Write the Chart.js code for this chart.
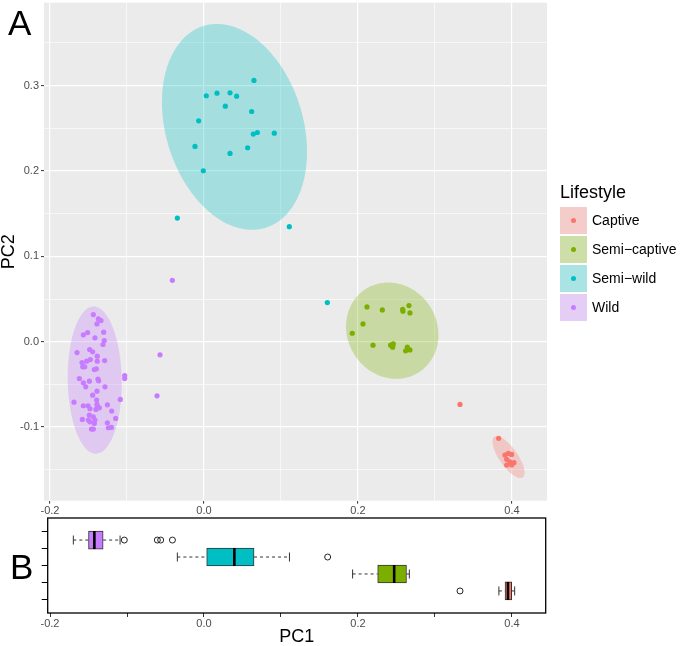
<!DOCTYPE html>
<html><head><meta charset="utf-8">
<script src="https://cdn.jsdelivr.net/npm/chart.js@4.4.1/dist/chart.umd.min.js"></script>
<style>
html,body{margin:0;padding:0;background:#fff;}
#wrap{position:relative;width:685px;height:646px;overflow:hidden;font-family:"Liberation Sans",Arial,sans-serif;}
canvas{position:absolute;left:0;}
#cA{top:0;}
#cB{top:510px;}
.tag{position:absolute;font-size:35px;line-height:35px;color:#000;}
#legTitle{position:absolute;left:560px;top:183px;font-size:18px;line-height:18px;color:#000;}
.key{position:absolute;left:560px;width:27px;height:27px;background:#F2F2F2;}
.keyfill{position:absolute;left:0;top:0;width:27px;height:27px;}
.dot{position:absolute;left:11px;top:11px;width:5.2px;height:5.2px;border-radius:50%;}
.lab{position:absolute;left:592px;height:27px;line-height:27px;font-size:14px;color:#000;white-space:nowrap;}
</style></head>
<body>
<div id="wrap">
<canvas id="cA" width="685" height="520"></canvas>
<canvas id="cB" width="685" height="136"></canvas>
<div class="tag" style="left:8px;top:5px">A</div>
<div class="tag" style="left:10px;top:549px">B</div>
<div id="legTitle">Lifestyle</div>
<div id="legend"></div>
</div>
<script>
// ---------- data ----------
const groupLabels = ['Captive','Semi−captive','Semi−wild','Wild'];
const groupColors = ['#F8766D','#7CAE00','#00BFC4','#C77CFF'];

const captivePC1 = [0.3325,0.3827,0.3909,0.3952,0.3996,0.3931,0.3974,0.4026,0.3931,0.3996];
const captivePC2 = [-0.0735,-0.1132,-0.1327,-0.1308,-0.1320,-0.1378,-0.1406,-0.1417,-0.1444,-0.1444];

const semiCaptivePC1 = [0.2117,0.2316,0.2580,0.2584,0.2662,0.2675,0.2065,0.1926,0.2195,0.2424,0.2459,0.2451,0.2641,0.2619,0.2675];
const semiCaptivePC2 = [0.0407,0.0372,0.0380,0.0357,0.0423,0.0337,0.0208,0.0099,-0.0041,-0.0041,-0.0026,-0.0064,-0.0064,-0.0107,-0.0096];

const semiWildPC1 = [0.0649,0.0030,0.0169,0.0338,0.0424,0.0277,0.0619,-0.0069,0.0640,0.0693,0.0913,-0.0117,0.0567,0.0338,-0.0009,-0.0346,0.1108,0.1602];
const semiWildPC2 = [0.306,0.288,0.291,0.2915,0.2875,0.2758,0.2696,0.2587,0.2431,0.245,0.2442,0.2287,0.2271,0.2205,0.2002,0.1448,0.1347,0.0458];

const wildPC1 = [-0.1437,-0.1372,-0.1338,-0.1390,-0.1567,-0.1511,-0.1303,-0.1416,-0.1295,-0.1312,-0.1649,-0.1485,-0.1446,-0.1386,-0.1584,-0.1523,-0.1476,-0.1386,-0.1290,-0.1575,-0.1549,-0.1424,-0.1398,-0.1619,-0.1489,-0.1567,-0.1536,-0.1377,-0.1368,-0.1286,-0.1390,-0.1446,-0.1030,-0.1030,-0.1087,-0.1688,-0.1394,-0.1390,-0.1567,-0.1506,-0.1481,-0.1381,-0.1359,-0.1255,-0.1403,-0.1199,-0.1489,-0.1437,-0.1580,-0.1502,-0.1416,-0.1147,-0.1255,-0.1481,-0.1424,-0.1242,-0.1203,-0.1462,-0.1437,-0.0411,-0.0571,-0.0610];
const wildPC2 = [0.0318,0.0267,0.0248,0.0208,0.0080,0.0107,0.0111,0.0045,0.0014,-0.0033,-0.0127,-0.0092,-0.0119,-0.0170,-0.0244,-0.0228,-0.0209,-0.0228,-0.0221,-0.0294,-0.0294,-0.0326,-0.0318,-0.0431,-0.0462,-0.0481,-0.0528,-0.0439,-0.0458,-0.0528,-0.0579,-0.0626,-0.0396,-0.0431,-0.0676,-0.0708,-0.0684,-0.0735,-0.0750,-0.0750,-0.0785,-0.0762,-0.0774,-0.0739,-0.0793,-0.0813,-0.0860,-0.0879,-0.0910,-0.0918,-0.0918,-0.0899,-0.0949,-0.0938,-0.0957,-0.1008,-0.1004,-0.1023,-0.1023,0.0719,-0.0154,-0.0634];

// confidence ellipses (centre, half extents, correlation) in data units, order as groupLabels
const ellipseCX = [0.3955, 0.2445, 0.0396, -0.1419];
const ellipseCY = [-0.1351, 0.0129, 0.2515, -0.0450];
const ellipseSX = [0.0208, 0.0600, 0.0942, 0.0351];
const ellipseSY = [0.0246, 0.0564, 0.1205, 0.0862];
const ellipseR  = [-0.74, -0.087, -0.241, -0.04];

// boxplot (panel B), rows top to bottom
const boxCats     = ['Wild','Semi-wild','Semi-captive','Captive'];
const boxColors   = ['#C77CFF','#00BFC4','#7CAE00','#F8766D'];
const whiskerLow  = [-0.1697, -0.0346, 0.193, 0.383];
const boxQ1       = [-0.150, 0.0035, 0.2256, 0.391];
const boxMedian   = [-0.1424, 0.0394, 0.247, 0.3948];
const boxQ3       = [-0.131, 0.065, 0.263, 0.3996];
const whiskerHigh = [-0.109, 0.111, 0.2667, 0.4035];
const outWild        = [-0.1035, -0.0606, -0.0563, -0.041];
const outSemiWild    = [0.1606];
const outSemiCaptive = [];
const outCaptive     = [0.3325];

// ticks
const xTicks = [-0.2,-0.1,0,0.1,0.2,0.3,0.4];
const xTickLabelValues = [-0.2,0,0.2,0.4];
const xTickLabels = ['-0.2','0.0','0.2','0.4'];
const yTicks = [-0.15,-0.1,-0.05,0,0.05,0.1,0.15,0.2,0.25,0.3,0.35];
const yTickLabelValues = [-0.1,0,0.1,0.2,0.3];
const yTickLabels = ['-0.1','0.0','0.1','0.2','0.3'];

// ---------- helpers ----------
Chart.defaults.font.family = '"Liberation Sans", Arial, sans-serif';
const near = (a,b) => Math.abs(a-b) < 1e-6;
const labelFor = (v, vals, labs) => { const i = vals.findIndex(t => near(t,v)); return i >= 0 ? labs[i] : ''; };
const isMajor = (v, vals) => vals.some(t => near(t,v));
const zip = (xs, ys) => xs.map((x,i) => ({x, y: ys[i]}));
const rgba = (hex, a) => { const n = parseInt(hex.slice(1),16); return `rgba(${n>>16&255},${n>>8&255},${n&255},${a})`; };
const zeroPad = s => { s.paddingLeft = 0; s.paddingRight = 0; s.paddingTop = 0; s.paddingBottom = 0; };

// ---------- legend (HTML) ----------
const leg = document.getElementById('legend');
groupLabels.forEach((lab, i) => {
  const top = 207 + 29 * i;
  const k = document.createElement('div'); k.className = 'key'; k.style.top = top + 'px';
  const f = document.createElement('div'); f.className = 'keyfill'; f.style.background = rgba(groupColors[i], 0.3);
  const d = document.createElement('div'); d.className = 'dot'; d.style.background = groupColors[i];
  k.appendChild(f); k.appendChild(d); leg.appendChild(k);
  const t = document.createElement('div'); t.className = 'lab'; t.style.top = top + 'px'; t.textContent = lab;
  leg.appendChild(t);
});

// ---------- panel A ----------
const panelBg = {
  id: 'panelBg',
  beforeDraw(chart) {
    const {ctx, chartArea: a} = chart;
    ctx.save(); ctx.fillStyle = '#EBEBEB';
    ctx.fillRect(a.left, a.top, a.right - a.left, a.bottom - a.top);
    ctx.restore();
  }
};
const ellipses = {
  id: 'ellipses',
  beforeDatasetsDraw(chart) {
    const {ctx, scales: {x, y}} = chart;
    ctx.save();
    groupLabels.forEach((g, i) => {
      const s = Math.sqrt(1 - ellipseR[i] * ellipseR[i]);
      ctx.beginPath();
      for (let k = 0; k <= 180; k++) {
        const t = k / 180 * Math.PI * 2;
        const vx = ellipseCX[i] + ellipseSX[i] * Math.cos(t);
        const vy = ellipseCY[i] + ellipseSY[i] * (ellipseR[i] * Math.cos(t) + s * Math.sin(t));
        const px = x.getPixelForValue(vx), py = y.getPixelForValue(vy);
        if (k === 0) ctx.moveTo(px, py); else ctx.lineTo(px, py);
      }
      ctx.closePath();
      ctx.fillStyle = rgba(groupColors[i], 0.3);
      ctx.fill();
    });
    ctx.restore();
  }
};

const seriesA = [zip(captivePC1, captivePC2), zip(semiCaptivePC1, semiCaptivePC2), zip(semiWildPC1, semiWildPC2), zip(wildPC1, wildPC2)];

new Chart(document.getElementById('cA'), {
  type: 'scatter',
  data: {
    datasets: seriesA.map((d, i) => ({
      label: groupLabels[i], data: d,
      backgroundColor: groupColors[i], borderWidth: 0, pointRadius: 2.6, pointHoverRadius: 2.6
    }))
  },
  options: {
    responsive: false, animation: false, devicePixelRatio: 1,
    layout: {padding: {left: 0, top: 2, right: 138, bottom: 0}},
    plugins: {legend: {display: false}, tooltip: {enabled: false}},
    events: [],
    scales: {
      x: {
        type: 'linear', min: -0.2078, max: 0.4455,
        afterBuildTicks: s => { s.ticks = xTicks.map(v => ({value: v})); },
        afterFit: s => { s.height = 19.3; zeroPad(s); },
        ticks: {
          autoSkip: false, maxRotation: 0, padding: 1, color: '#4D4D4D', font: {size: 11},
          callback: v => labelFor(v, xTickLabelValues, xTickLabels)
        },
        grid: {
          color: '#FFFFFF',
          lineWidth: c => isMajor(c.tick.value, xTickLabelValues) ? 1.2 : 0.6,
          tickLength: 3,
          tickColor: c => isMajor(c.tick.value, xTickLabelValues) ? '#333333' : 'rgba(0,0,0,0)',
          tickWidth: 1
        },
        border: {display: false}
      },
      y: {
        type: 'linear', min: -0.1862, max: 0.3971,
        afterBuildTicks: s => { s.ticks = yTicks.map(v => ({value: v})); },
        afterFit: s => { s.width = 44; zeroPad(s); },
        ticks: {
          autoSkip: false, padding: 2, color: '#4D4D4D', font: {size: 11},
          callback: v => labelFor(v, yTickLabelValues, yTickLabels)
        },
        grid: {
          color: '#FFFFFF',
          lineWidth: c => isMajor(c.tick.value, yTickLabelValues) ? 1.2 : 0.6,
          tickLength: 3,
          tickColor: c => isMajor(c.tick.value, yTickLabelValues) ? '#333333' : 'rgba(0,0,0,0)',
          tickWidth: 1
        },
        border: {display: false},
        title: {display: true, text: 'PC2', color: '#000', font: {size: 18, lineHeight: 1}, padding: 0}
      }
    }
  },
  plugins: [panelBg, ellipses]
});

// ---------- panel B ----------
const boxExtras = {
  id: 'boxExtras',
  afterDatasetsDraw(chart) {
    const {ctx, scales: {x, y}} = chart;
    ctx.save();
    boxCats.forEach((c, i) => {
      const py = y.getPixelForValue(i + 1);
      const half = 9, cap = 4.5;
      ctx.strokeStyle = '#333333'; ctx.lineWidth = 1;
      // dashed whiskers
      ctx.setLineDash([3, 3]);
      ctx.beginPath();
      ctx.moveTo(x.getPixelForValue(whiskerLow[i]), py); ctx.lineTo(x.getPixelForValue(boxQ1[i]), py);
      ctx.moveTo(x.getPixelForValue(boxQ3[i]), py); ctx.lineTo(x.getPixelForValue(whiskerHigh[i]), py);
      ctx.stroke();
      ctx.setLineDash([]);
      // staples
      ctx.beginPath();
      [whiskerLow[i], whiskerHigh[i]].forEach(v => {
        const px = x.getPixelForValue(v);
        ctx.moveTo(px, py - cap); ctx.lineTo(px, py + cap);
      });
      ctx.stroke();
      // median
      ctx.strokeStyle = '#000'; ctx.lineWidth = 2.6;
      ctx.beginPath();
      const pm = x.getPixelForValue(boxMedian[i]);
      ctx.moveTo(pm, py - half); ctx.lineTo(pm, py + half);
      ctx.stroke();
    });
    ctx.restore();
  },
  afterDraw(chart) {
    const {ctx, chartArea: a} = chart;
    ctx.save(); ctx.strokeStyle = '#000'; ctx.lineWidth = 1.3;
    ctx.strokeRect(a.left, a.top, a.right - a.left, a.bottom - a.top);
    ctx.restore();
  }
};

const outlierSets = [outWild, outSemiWild, outSemiCaptive, outCaptive];
const outlierPoints = [];
outlierSets.forEach((arr, i) => arr.forEach(v => outlierPoints.push({x: v, y: i + 1})));
const yCatTicks = [1, 2, 3, 4];

new Chart(document.getElementById('cB'), {
  type: 'scatter',
  data: {
    datasets: [
      {
        type: 'bar', indexAxis: 'y', label: 'box',
        data: boxCats.map((c, i) => ({y: i + 1, x: [boxQ1[i], boxQ3[i]]})),
        backgroundColor: boxColors, borderColor: '#333333', borderWidth: 1, borderSkipped: false,
        barThickness: 18
      },
      {
        type: 'scatter', label: 'outliers', data: outlierPoints,
        pointStyle: 'circle', pointRadius: 3, pointHoverRadius: 3,
        backgroundColor: 'rgba(0,0,0,0)', borderColor: '#222222', borderWidth: 1
      }
    ]
  },
  options: {
    responsive: false, animation: false, devicePixelRatio: 1,
    layout: {padding: {left: 0, top: 8, right: 139.3, bottom: 0}},
    plugins: {legend: {display: false}, tooltip: {enabled: false}},
    events: [],
    scales: {
      x: {
        type: 'linear', min: -0.2030, max: 0.4438,
        afterBuildTicks: s => { s.ticks = xTicks.map(v => ({value: v})); },
        afterFit: s => { s.height = 33; zeroPad(s); },
        ticks: {
          autoSkip: false, maxRotation: 0, padding: 0, color: '#4D4D4D', font: {size: 11},
          callback: v => labelFor(v, xTickLabelValues, xTickLabels)
        },
        grid: {drawOnChartArea: false, tickLength: 4, tickColor: '#333333', tickWidth: 1},
        border: {display: false},
        title: {display: true, text: 'PC1', color: '#000', font: {size: 18, lineHeight: 1}, padding: 0}
      },
      y: {
        type: 'linear', min: 0.4, max: 4.6, reverse: true,
        afterBuildTicks: s => { s.ticks = yCatTicks.map(v => ({value: v})); },
        afterFit: s => { s.width = 47.7; zeroPad(s); },
        ticks: {autoSkip: false, padding: 0, callback: () => ''},
        grid: {drawOnChartArea: false, tickLength: 6, tickColor: '#000000', tickWidth: 1},
        border: {display: false}
      }
    }
  },
  plugins: [boxExtras]
});
</script>
</body></html>
